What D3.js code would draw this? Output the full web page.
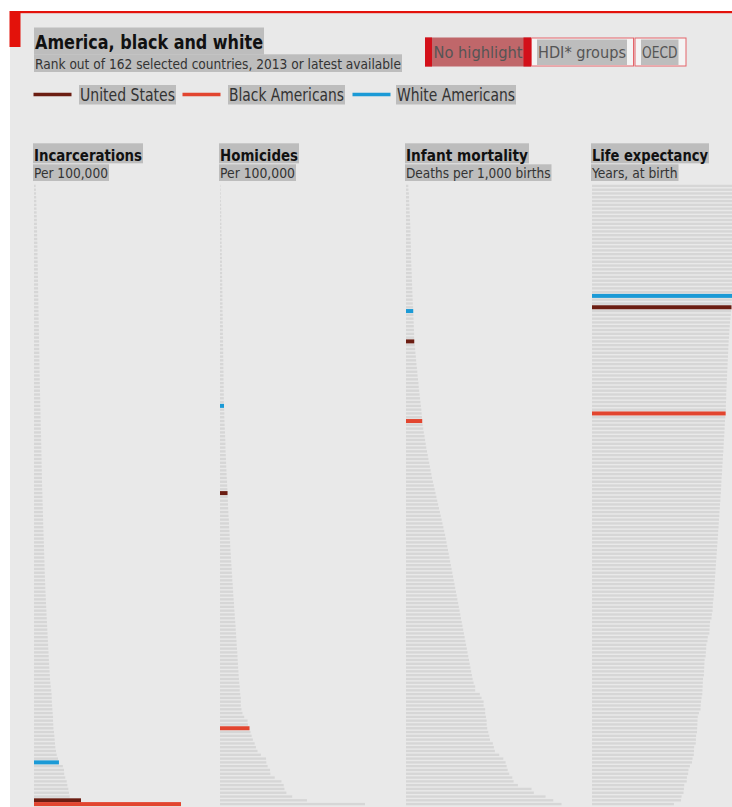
<!DOCTYPE html>
<html><head><meta charset="utf-8">
<script src="https://cdn.jsdelivr.net/npm/d3@7"></script>
<style>
html,body{margin:0;padding:0;background:#fff;overflow:hidden;}
svg{display:block;}
text{font-family:"Liberation Sans Narrow","DejaVu Sans Condensed","Roboto",sans-serif;}
</style></head><body>
<svg id="c" width="732" height="807"></svg>
<script>
// ---------- data ----------
const titleText = "America, black and white";
const subtitleText = "Rank out of 162 selected countries, 2013 or latest available";
const groups = ["United States", "Black Americans", "White Americans"];
const buttons = ["No highlight", "HDI* groups", "OECD"];
const panelTitles = ["Incarcerations", "Homicides", "Infant mortality", "Life expectancy"];
const panelUnits = ["Per 100,000", "Per 100,000", "Deaths per 1,000 births", "Years, at birth"];
const sortOrder = ["asc", "asc", "asc", "desc"];

const usValues    = [716, 4.7, 5.7, 78.8];
const blackValues = [2240, 18.4, 11.2, 75.5];
const whiteValues = [380, 2.5, 5.0, 79.1];

const incarcerations = [
  26, 29, 31, 33, 35, 37, 38, 40, 41, 43, 44, 45, 47, 48, 49, 51, 52, 53, 54, 55, 56, 57, 58, 59, 60,
  61, 62, 62, 64, 65, 66, 66, 68, 69, 70, 71, 72, 74, 75, 75, 76, 78, 79, 80, 81, 82, 82, 83, 84, 85, 86,
  87, 88, 90, 91, 92, 94, 95, 96, 98, 99, 100, 102, 103, 105, 106, 108, 109, 110, 112, 113, 114, 115, 116, 117, 119, 120, 121,
  122, 124, 125, 127, 129, 130, 132, 134, 135, 137, 139, 140, 142, 144, 146, 148, 150, 152, 153, 155, 157, 159, 160, 162, 164, 166,
  168, 171, 173, 175, 178, 180, 183, 186, 189, 191, 194, 197, 200, 203, 206, 209, 212, 215, 218, 221, 224, 227, 230, 233, 237, 241,
  244, 249, 255, 262, 268, 270, 272, 276, 280, 285, 290, 290, 294, 296, 305, 310, 315, 320, 325, 335, 346, 366,
  440, 457, 460, 477, 498, 508, 523, 533, 544
];
const homicides = [
  0.3, 0.4, 0.5, 0.5, 0.6, 0.7, 0.7, 0.8, 0.8, 0.8, 0.9, 0.9, 0.9, 1.0, 1.0, 1.0, 1.1, 1.1, 1.1, 1.2,
  1.2, 1.2, 1.3, 1.3, 1.3, 1.4, 1.4, 1.4, 1.5, 1.5, 1.5, 1.6, 1.6, 1.6, 1.7, 1.7, 1.7, 1.8, 1.8, 1.8,
  1.9, 1.9, 1.9, 2.0, 2.0, 2.0, 2.1, 2.1, 2.1, 2.2, 2.2, 2.2, 2.3, 2.3, 2.3, 2.4, 2.4, 2.4,
  2.6, 2.7, 2.7, 2.8, 2.9, 3.0, 3.1, 3.2, 3.3, 3.4, 3.4, 3.5, 3.6, 3.7, 3.8, 3.9, 4.0, 4.1, 4.2, 4.4, 4.5, 4.6,
  4.8, 4.9, 5.0, 5.1, 5.2, 5.3, 5.5, 5.6, 5.7, 5.9, 6.0, 6.1, 6.3, 6.4, 6.5, 6.7, 6.8, 7.0, 7.1, 7.3,
  7.4, 7.6, 7.7, 7.9, 8.0, 8.2, 8.3, 8.5, 8.7, 8.8, 9.0, 9.2, 9.3, 9.5, 9.7, 9.8, 10.0, 10.1, 10.3, 10.4,
  10.6, 10.8, 10.9, 11.0, 11.2, 11.3, 11.5, 11.6, 11.8, 12.0,
  12.3, 12.3, 12.6, 13.0, 13.0, 13.0, 13.4, 14.0, 15.1, 17.2, 17.4,
  19.0, 19.7, 20.5, 21.6, 22.4, 23.4, 25.5, 28.7, 28.9, 29.7, 31.2, 31.4, 34.1, 38.3, 39.7, 40.2, 41.4, 45.0, 54.2, 90.4
];
const infantMortality = [
  1.6, 1.7, 2.0, 2.1, 2.2, 2.3, 2.4, 2.5, 2.7, 2.8, 2.9, 3.0, 3.1, 3.1, 3.2, 3.3, 3.4, 3.4, 3.5, 3.5,
  3.6, 3.7, 3.8, 3.9, 4.0, 4.1, 4.2, 4.3, 4.4, 4.5, 4.6, 4.7, 4.9,
  5.1, 5.2, 5.3, 5.4, 5.5, 5.6, 5.6,
  6.0, 6.3, 6.5, 6.8, 7.0, 7.2, 7.5, 7.8, 8.0, 8.3, 8.6, 8.8, 9.1, 9.4, 9.7, 10.0, 10.3, 10.6, 10.8, 11.0,
  11.5, 11.9, 12.3, 12.8, 13.2, 13.6, 14.0, 14.5, 15.0, 15.5, 16.0, 16.5, 17.0, 17.5, 18.0, 18.6, 19.2, 19.8, 20.4, 21.0,
  21.6, 22.2, 22.8, 23.4, 24.0, 24.6, 25.2, 25.8, 26.4, 27.0, 27.5, 28.0, 28.5, 29.0, 29.5, 30.0, 30.5, 31.0, 31.5, 32.0,
  32.5, 33.0, 33.5, 34.0, 34.5, 35.0, 35.5, 36.0, 36.5, 37.0, 37.5, 38.0, 38.5, 39.0, 39.5, 40.0, 40.5, 41.0, 41.5, 42.0,
  42.5, 43.0, 43.5, 44.0, 44.5, 45.0, 45.5, 46.0,
  46.7, 47.8, 47.8, 51.0, 52.2, 53.6, 53.6, 54.7, 54.7, 55.2, 55.7, 55.7, 56.1, 56.8, 57.5, 58.0, 60.0, 60.7, 61.4, 64.4,
  67.2, 68.8, 69.5, 70.2, 71.3, 73.4, 74.3, 77.3, 86.7, 88.3, 96.4, 101.7, 107.4
];
const lifeExpectancy = [
  83.6, 83.4, 83.1, 82.8, 82.7, 82.5, 82.3, 82.2, 82.1, 82.0, 81.9, 81.8, 81.7, 81.5, 81.4, 81.3, 81.2, 81.1, 81.0, 80.9,
  80.8, 80.7, 80.6, 80.4, 80.2, 80.0, 79.8, 79.6, 79.3,
  79.0, 78.9,
  78.6, 78.4, 78.2, 78.0, 77.8, 77.6, 77.5, 77.4, 77.2, 77.1, 77.0, 76.9, 76.8, 76.7, 76.6, 76.5, 76.4, 76.3, 76.2, 76.1,
  76.0, 75.9, 75.8, 75.8, 75.7, 75.6, 75.6,
  75.3, 75.1, 75.0, 74.9, 74.8, 74.7, 74.5, 74.4, 74.3, 74.2, 74.0, 73.9, 73.8, 73.6, 73.5, 73.4, 73.2, 73.1, 73.0, 72.9,
  72.8, 72.6, 72.5, 72.3, 72.2, 72.0, 71.9, 71.7, 71.6, 71.5, 71.3, 71.2, 71.0, 70.9, 70.7, 70.6, 70.4, 70.3, 70.1, 70.0,
  69.8, 69.7, 69.5, 69.4, 69.2, 69.1, 68.9, 68.8, 68.6,
  68.3, 68.2, 68.1, 67.7, 67.5, 66.7, 66.5, 66.4, 66.3, 65.4, 65.2, 64.6, 64.5, 64.3, 64.2, 63.6, 63.5, 63.4, 63.3, 63.2,
  62.7, 62.6, 62.5, 62.4, 62.3, 61.9, 61.6, 61.4, 61.3, 60.4, 59.7, 59.6, 59.5, 59.4, 59.3, 58.8, 58.7, 58.6, 57.7, 57.6,
  57.5, 56.8, 56.5, 55.3, 54.5, 54.3, 53.6, 53.5, 52.1, 51.9, 51.7, 50.6, 50.3, 46.3
];
const panelData = [incarcerations, homicides, infantMortality, lifeExpectancy];

// ---------- layout / style ----------
const W = 732, H = 807;
const RED = "#e3120b";
const BG = "#e9e9e9";
const TXTBG = "#bdbdbd";
const BAR = "#d6d6d6";
const groupColors = ["#6b1d12", "#e2452f", "#1b9ad6"];
const panelX = [34, 220, 406, 592];
const panelMaxW = [147, 145, 155.5, 148];

const svg = d3.select("#c");
svg.append("rect").attr("x", 0).attr("y", 0).attr("width", W).attr("height", H).attr("fill", "#fff");
svg.append("rect").attr("x", 10).attr("y", 12).attr("width", W - 10).attr("height", H - 12).attr("fill", BG);
svg.append("rect").attr("x", 10).attr("y", 11).attr("width", W - 10).attr("height", 2.2).attr("fill", RED);
svg.append("rect").attr("x", 9.5).attr("y", 11).attr("width", 11).attr("height", 36).attr("fill", RED);

// text with grey background box
function label(x, base, str, o) {
  const g = svg.append("g");
  const bg = g.append("rect").attr("fill", o.bg === undefined ? TXTBG : o.bg);
  const t = g.append("text").attr("x", x).attr("y", base).text(str)
    .attr("font-size", o.size).attr("font-weight", o.bold ? 700 : 400)
    .attr("fill", o.color || "#222");
  if (o.w) t.attr("textLength", o.w).attr("lengthAdjust", "spacingAndGlyphs");
  const w = o.w || t.node().getComputedTextLength();
  bg.attr("x", x - 1).attr("y", base - o.up).attr("width", w + 2).attr("height", o.up + o.down);
  if (o.bg === null) bg.remove();
  return g;
}

label(35, 48.5, titleText, {size: 20, bold: true, w: 228, up: 21, down: 6, color: "#111"});
label(35, 69.3, subtitleText, {size: 13.5, w: 366, up: 15, down: 2.7, color: "#333"});

// legend
const legendLineX = [33.5, 182.5, 352.5];
const legendTextX = [80, 229, 397];
const legendTextW = [95, 115, 118];
groups.forEach((gname, i) => {
  svg.append("line").attr("x1", legendLineX[i]).attr("x2", legendLineX[i] + 38)
    .attr("y1", 94.5).attr("y2", 94.5).attr("stroke", groupColors[i]).attr("stroke-width", 3.5);
  label(legendTextX[i], 100.5, gname, {size: 17, w: legendTextW[i], up: 15.5, down: 4, color: "#333"});
});

// buttons
svg.append("rect").attr("x", 425).attr("y", 37.5).attr("width", 106).attr("height", 29).attr("fill", "#c0676a");
svg.append("rect").attr("x", 425).attr("y", 37.5).attr("width", 7).attr("height", 29).attr("fill", "#d3101a");
svg.append("rect").attr("x", 523.5).attr("y", 37.5).attr("width", 7.5).attr("height", 29).attr("fill", "#d3101a");
svg.append("rect").attr("x", 531.5).attr("y", 38).attr("width", 102).attr("height", 28).attr("fill", "#f4f4f4").attr("stroke", "#e4646a").attr("stroke-width", 1);
svg.append("rect").attr("x", 635).attr("y", 38).attr("width", 51).attr("height", 28).attr("fill", "#f4f4f4").attr("stroke", "#e4646a").attr("stroke-width", 1);
label(433.5, 57.5, buttons[0], {size: 16, w: 89, up: 0, down: 0, bg: null, color: "#555"});
label(538, 57.5, buttons[1], {size: 16, w: 88, up: 18, down: 7.5, color: "#555"});
label(642, 57.5, buttons[2], {size: 16, w: 35.5, up: 18, down: 7.5, color: "#555"});

// panels
const titleW = [108, 78, 122, 116];
const unitW = [74, 75, 144.5, 85.5];
const nRows = incarcerations.length + 3;
const y = d3.scaleBand().domain(d3.range(nRows)).range([184, 806]).paddingInner(0.38).paddingOuter(0.19);
const yc = i => y(i) + y.bandwidth() / 2;

panelData.forEach((vals, p) => {
  label(panelX[p], 160.5, panelTitles[p], {size: 16, bold: true, w: titleW[p], up: 17.2, down: 2.8, color: "#111"});
  label(panelX[p], 177.7, panelUnits[p], {size: 13.5, w: unitW[p], up: 13.4, down: 3.3, color: "#333"});

  const rows = vals.map(v => ({v, g: -1}));
  rows.push({v: usValues[p], g: 0}, {v: blackValues[p], g: 1}, {v: whiteValues[p], g: 2});
  rows.sort((a, b) => sortOrder[p] === "asc" ? a.v - b.v : b.v - a.v);
  const x = d3.scaleLinear().domain([0, d3.max(rows, d => d.v)]).range([0, panelMaxW[p]]);
  const g = svg.append("g").attr("transform", `translate(${panelX[p]},0)`);
  g.selectAll("rect.bar").data(rows.map((d, i) => ({...d, i})).filter(d => d.g < 0))
    .join("rect").attr("class", "bar")
    .attr("x", 0).attr("y", d => y(d.i)).attr("height", y.bandwidth())
    .attr("width", d => x(d.v)).attr("fill", BAR);
  g.selectAll("rect.hl").data(rows.map((d, i) => ({...d, i})).filter(d => d.g >= 0))
    .join("rect").attr("class", "hl")
    .attr("x", 0).attr("y", d => yc(d.i) - 2).attr("height", 4)
    .attr("width", d => x(d.v)).attr("fill", d => groupColors[d.g]);
});
</script>
</body></html>
